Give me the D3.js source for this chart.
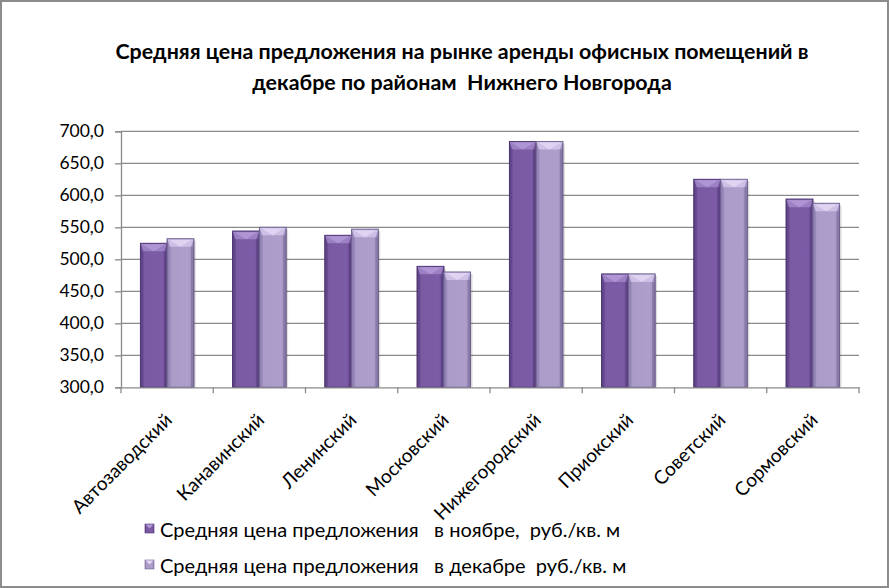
<!DOCTYPE html>
<html><head><meta charset="utf-8">
<script src="https://cdn.jsdelivr.net/npm/d3@7/dist/d3.min.js"></script>
<style>
html,body{margin:0;padding:0;background:#fff;}
svg{display:block;font-family:Lato,"Open Sans",sans-serif;}
</style></head>
<body>
<svg id="chart" width="889" height="588"></svg>
<script>
const categories = ["Автозаводский","Канавинский","Ленинский","Московский","Нижегородский","Приокский","Советский","Сормовский"];
const novemberValues = [525, 544, 537.5, 489, 684, 477, 625, 594];
const decemberValues = [532, 550, 547, 480, 684, 477, 625, 587.5];
const seriesNames = ["Средняя цена предложения   в ноябре,  руб./кв. м","Средняя цена предложения   в декабре  руб./кв. м"];
const yTicks = [300,350,400,450,500,550,600,650,700];
const titleLines = ["Средняя цена предложения на рынке аренды офисных помещений в","декабре по районам  Нижнего Новгорода"];

const svg = d3.select("#chart");
const W = 889, H = 588;
const plot = {left:121, right:859, top:131.3, bottom:387.3};

svg.append("rect").attr("x",1).attr("y",1).attr("width",W-2).attr("height",H-2)
  .attr("fill","#fff").attr("stroke","#8c8c8c").attr("stroke-width",2);

const defs = svg.append("defs");
const palettes = [
  {body:["#5e4286","#7a5aa3","#7c5ca6","#6a4c93"], top:"#9b80c4", topLight:"#b49ad8", edge:"#4a3470"},
  {body:["#8e7fb0","#aa9bc8","#ad9ecb","#9b8cbb"], top:"#cdbfe6", topLight:"#e2d8f4", edge:"#6f6290"}
];
palettes.forEach((p,i)=>{
  const g = defs.append("linearGradient").attr("id","g"+i).attr("x1","0").attr("x2","1").attr("y1","0").attr("y2","0");
  g.append("stop").attr("offset","0").attr("stop-color",p.body[0]);
  g.append("stop").attr("offset","0.15").attr("stop-color",p.body[1]);
  g.append("stop").attr("offset","0.8").attr("stop-color",p.body[2]);
  g.append("stop").attr("offset","1").attr("stop-color",p.body[3]);
});

const x = d3.scaleBand().domain(categories).range([plot.left,plot.right]).paddingInner(0.42).paddingOuter(0.21);
const xs = d3.scaleBand().domain([0,1]).range([0,x.bandwidth()]);
const y = d3.scaleLinear().domain([300,700]).range([plot.bottom,plot.top]);

svg.append("g").selectAll("line").data(yTicks.slice(1)).join("line")
  .attr("x1",plot.left).attr("x2",plot.right)
  .attr("y1",d=>y(d)).attr("y2",d=>y(d))
  .attr("stroke","#8a8a8a").attr("stroke-width",1.3);

const yAxis = d3.axisLeft(y).tickValues(yTicks).tickSize(6).tickPadding(11)
  .tickFormat(d=>d3.format(".1f")(d).replace(".",","));
const ya = svg.append("g").attr("transform",`translate(${plot.left},0)`).call(yAxis);
ya.select(".domain").attr("stroke","#8a8a8a").attr("stroke-width",1.3);
ya.selectAll(".tick line").attr("stroke","#8a8a8a").attr("stroke-width",1.3);
ya.selectAll("text").attr("font-size",17.5).attr("fill","#000").attr("font-family","Lato");

const series = [novemberValues, decemberValues];
const groups = svg.append("g").selectAll("g").data(categories).join("g")
  .attr("transform",d=>`translate(${x(d)},0)`);
series.forEach((vals,si)=>{
  const p = palettes[si];
  groups.each(function(c,ci){
    const g = d3.select(this);
    const bx = xs(si), bw = xs.bandwidth();
    const top = y(vals[ci]), bot = y(300);
    g.append("rect").attr("x",bx+2).attr("y",top+2).attr("width",bw).attr("height",bot-top-2)
      .attr("fill","#000").attr("opacity",0.12);
    g.append("rect").attr("x",bx).attr("y",top).attr("width",bw).attr("height",bot-top)
      .attr("fill",`url(#g${si})`).attr("stroke",p.edge).attr("stroke-width",0.8);
    const bv = 8;
    g.append("path").attr("d",`M${bx},${top}L${bx+bw},${top}L${bx+bw-3},${top+bv}L${bx+3},${top+bv}Z`).attr("fill",p.top);
    g.append("path").attr("d",`M${bx+2},${top+1}L${bx+bw-2},${top+1}L${bx+bw/2},${top+bv}Z`).attr("fill",p.topLight).attr("opacity",0.8);
    g.append("rect").attr("x",bx).attr("y",top+bv).attr("width",3).attr("height",bot-top-bv).attr("fill",p.body[0]).attr("opacity",0.6);
    g.append("rect").attr("x",bx+bw-3).attr("y",top+bv).attr("width",3).attr("height",bot-top-bv).attr("fill",p.edge).attr("opacity",0.5);
    g.append("rect").attr("x",bx).attr("y",top).attr("width",bw).attr("height",bot-top)
      .attr("fill","none").attr("stroke",p.edge).attr("stroke-width",0.8);
  });
});

const xAxis = d3.axisBottom(x).tickSize(0).tickFormat("");
const xa = svg.append("g").attr("transform",`translate(0,${plot.bottom})`).call(xAxis);
xa.select(".domain").attr("stroke","#8a8a8a").attr("stroke-width",1.3);
const tickPos = d3.range(categories.length+1).map(i=>plot.left + i*(plot.right-plot.left)/categories.length);
svg.append("g").selectAll("line").data(tickPos).join("line")
  .attr("x1",d=>d).attr("x2",d=>d).attr("y1",plot.bottom).attr("y2",plot.bottom+6)
  .attr("stroke","#8a8a8a").attr("stroke-width",1.3);
svg.append("g").selectAll("text").data(categories).join("text")
  .attr("transform",d=>`translate(${x(d)+x.bandwidth()/2+6},${plot.bottom+34}) rotate(-45)`)
  .attr("text-anchor","end").attr("font-size",19).attr("fill","#000").text(d=>d);

svg.append("g").selectAll("text").data(titleLines).join("text")
  .attr("x",462).attr("y",(d,i)=>59+i*31).attr("text-anchor","middle")
  .attr("font-size",21.4).attr("font-weight","bold").attr("fill","#000")
  .style("white-space","pre").text(d=>d);

const lg = svg.append("g").selectAll("g").data(seriesNames).join("g")
  .attr("transform",(d,i)=>`translate(145,${530+i*36})`);
lg.append("rect").attr("x",0).attr("y",-6).attr("width",9).attr("height",9)
  .attr("fill",(d,i)=>`url(#g${i})`).attr("stroke",(d,i)=>palettes[i].edge).attr("stroke-width",0.6);
lg.append("path").attr("d","M0.5,-5.5L8.5,-5.5L4.5,-1.5Z").attr("fill",(d,i)=>palettes[i].topLight);
lg.append("text").attr("x",15).attr("y",6.5).attr("font-size",20).attr("fill","#000")
  .style("white-space","pre").text(d=>d);
</script>
</body></html>
